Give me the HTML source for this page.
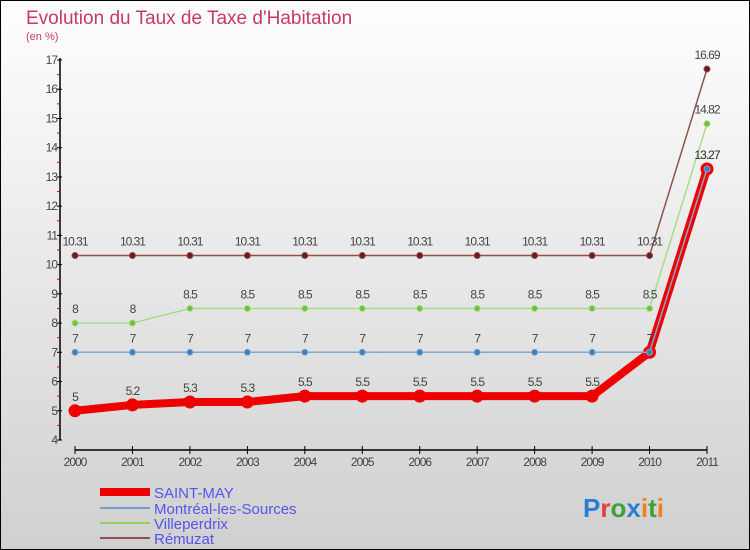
<!DOCTYPE html>
<html><head><meta charset="utf-8"><style>
body{margin:0}
svg{display:block;font-family:"Liberation Sans",sans-serif}
</style></head><body>
<svg width="750" height="550" viewBox="0 0 750 550">
<defs><linearGradient id="bg" x1="0" y1="0" x2="0" y2="1"><stop offset="0" stop-color="#ffffff"/><stop offset="1" stop-color="#d0d0d0"/></linearGradient></defs>
<rect x="0.5" y="0.5" width="749" height="549" fill="url(#bg)" stroke="#000"/>
<text x="26" y="24" font-size="19" fill="#c8386a">Evolution du Taux de Taxe d'Habitation</text>
<text x="26" y="40" font-size="11" fill="#c8386a">(en %)</text>
<g id="axes"></g>
<g id="series"></g>
<g>
<line x1="100" y1="492" x2="150" y2="492" stroke="#e00" stroke-width="8"/>
<text x="154" y="498" font-size="15" fill="#5555ee">SAINT-MAY</text>
<line x1="100" y1="508" x2="150" y2="508" stroke="#6fa0d0" stroke-width="2"/>
<text x="154" y="514" font-size="15" fill="#5555ee">Montréal-les-Sources</text>
<line x1="100" y1="523" x2="150" y2="523" stroke="#90d060" stroke-width="2"/>
<text x="154" y="529" font-size="15" fill="#5555ee">Villeperdrix</text>
<line x1="100" y1="538" x2="150" y2="538" stroke="#905050" stroke-width="2"/>
<text x="154" y="544" font-size="15" fill="#5555ee">Rémuzat</text>
</g>
<text x="583" y="517" font-size="26" font-weight="bold"><tspan fill="#2a7fd4">P</tspan><tspan fill="#e04040">r</tspan><tspan fill="#40a040">o</tspan><tspan fill="#2a7fd4">x</tspan><tspan fill="#f08020">i</tspan><tspan fill="#40a040">t</tspan><tspan fill="#f08020">i</tspan></text>
</svg>
<script>
const years=[2000,2001,2002,2003,2004,2005,2006,2007,2008,2009,2010,2011];
const saintMay=[5,5.2,5.3,5.3,5.5,5.5,5.5,5.5,5.5,5.5,7,13.27];
const montreal=[7,7,7,7,7,7,7,7,7,7,7,13.27];
const villeperdrix=[8,8,8.5,8.5,8.5,8.5,8.5,8.5,8.5,8.5,8.5,14.82];
const remuzat=[10.31,10.31,10.31,10.31,10.31,10.31,10.31,10.31,10.31,10.31,10.31,16.69];
const yTicks=[4,5,6,7,8,9,10,11,12,13,14,15,16,17];
const NS="http://www.w3.org/2000/svg";
const X=i=>75+i*(632/11);
const Y=v=>440-(v-4)*(380/13);
function mk(tag,attrs,parent){const e=document.createElementNS(NS,tag);for(const k in attrs)e.setAttribute(k,attrs[k]);parent.appendChild(e);return e;}
const ax=document.getElementById('axes');
let l=mk('line',{x1:60,y1:Y(17)-2,x2:60,y2:Y(4),stroke:'#000','stroke-width':1.5},ax);


yTicks.forEach(t=>{
 let tk=mk('line',{x1:57,y1:Y(t),x2:62,y2:Y(t),stroke:'#000'},ax);
 
 
 if(t<17){let m=mk('line',{x1:57,y1:Y(t+0.5),x2:60,y2:Y(t+0.5),stroke:'#e00'},ax);
 
 }
 let tx=mk('text',{x:57,y:Y(t)+4,'font-size':12,fill:'#444','text-anchor':'end','letter-spacing':'-1'},ax);
 tx.textContent=t;
 
 
});
l=mk('line',{x1:75,y1:450,x2:707,y2:450,stroke:'#000','stroke-width':1.5},ax);


years.forEach((y,i)=>{
 let tk=mk('line',{x1:X(i),y1:446,x2:X(i),y2:454,stroke:'#000'},ax);
 
 
 let tx=mk('text',{x:X(i),y:466,'font-size':12,fill:'#444','text-anchor':'middle','letter-spacing':'-1'},ax);
 tx.textContent=y;
 
 
});
const sg=document.getElementById('series');
function draw(data,color,w,r,fill,name){
 const g=mk('g',{},sg);
 
 
 const p=mk('polyline',{points:data.map((v,i)=>X(i)+','+Y(v)).join(' '),fill:'none',stroke:color,'stroke-width':w,'stroke-linejoin':'round'},g);
 
 
 data.forEach((v,i)=>{
  const c=mk('circle',{cx:X(i),cy:Y(v),r:r,fill:fill,stroke:color,'stroke-width':1},g);
  
  
  const t=mk('text',{x:X(i),y:Y(v)-10,'font-size':12,fill:'#444','text-anchor':'middle','letter-spacing':'-1'},g);
  t.textContent=v;
  
  
 });
}
draw(remuzat,'#905050',1.5,3,'#6a1a1a','remuzat');
draw(villeperdrix,'#a8dc88',1.5,3,'#70c040','villeperdrix');
draw(saintMay,'#ee0000',8,6,'#ee0000','saint-may');
draw(montreal,'#80a8d0',1.5,3,'#3a80c0','montreal');
</script>
</body></html>
